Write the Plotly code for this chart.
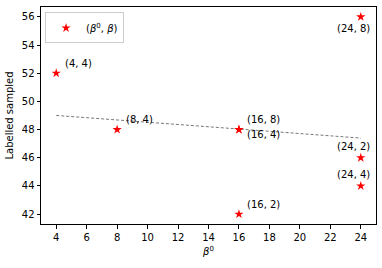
import numpy as np
import plotly.graph_objects as go

beta0 = [4, 8, 16, 16, 16, 24, 24, 24]
beta = [4, 4, 8, 4, 2, 8, 2, 4]
labelled = [52, 48, 48, 48, 42, 56, 46, 44]
# annotation placement per point (xshift, yshift, xanchor)
ann_pos = [(7, 10, "left"), (7, 10, "left"), (6, 10, "left"), (6, -5, "left"),
           (6, 10, "left"), (-7, -12, "center"), (-7, 11, "center"), (-7, 11, "center")]

slope, intercept = np.polyfit(beta0, labelled, 1)
line_x = [min(beta0), max(beta0)]
line_y = [slope * v + intercept for v in line_x]

font = "DejaVu Sans"
fig = go.Figure()
fig.add_trace(go.Scatter(x=line_x, y=line_y, mode="lines",
                         line=dict(color="#555555", width=0.8, dash="3px,2px"),
                         showlegend=False, hoverinfo="skip"))
fig.add_trace(go.Scatter(x=beta0, y=labelled, mode="markers",
                         marker=dict(symbol="star", color="red", size=7, line=dict(width=0)),
                         name="(<i>β</i><sup>0</sup>, <i>β</i>)"))

for x, b, y, (xs, ys, xa) in zip(beta0, beta, labelled, ann_pos):
    fig.add_annotation(x=x, y=y, text=f"({x}, {b})", showarrow=False,
                       xanchor=xa, yanchor="middle", xshift=xs, yshift=ys,
                       font=dict(family=font, size=10, color="black"))

axis_common = dict(showline=True, linecolor="black", linewidth=1, mirror=True,
                   ticks="outside", ticklen=3.5, tickwidth=0.8, tickcolor="black",
                   showgrid=False, zeroline=False,
                   tickfont=dict(family=font, size=10, color="black"))
fig.update_xaxes(range=[3, 25], tickvals=list(range(4, 25, 2)),
                 title=dict(text="<i>β</i><sup>0</sup>", font=dict(family=font, size=10, color="black"), standoff=6),
                 **axis_common)
fig.update_yaxes(range=[41.3, 56.7], tickvals=list(range(42, 57, 2)),
                 title=dict(text="Labelled sampled", font=dict(family=font, size=10, color="black"), standoff=6),
                 **axis_common)
fig.update_layout(width=382, height=268, margin=dict(l=41, r=6, t=7, b=44, autoexpand=False),
                  plot_bgcolor="white", paper_bgcolor="white",
                  legend=dict(x=0.012, y=0.975, xanchor="left", yanchor="top", itemwidth=30,
                              bordercolor="#cccccc", borderwidth=1, bgcolor="white",
                              font=dict(family=font, size=10, color="black")),
                  font=dict(family=font))
fig.write_html("out.html", config={"displayModeBar": False},
               post_script="document.body.style.margin='0';")
